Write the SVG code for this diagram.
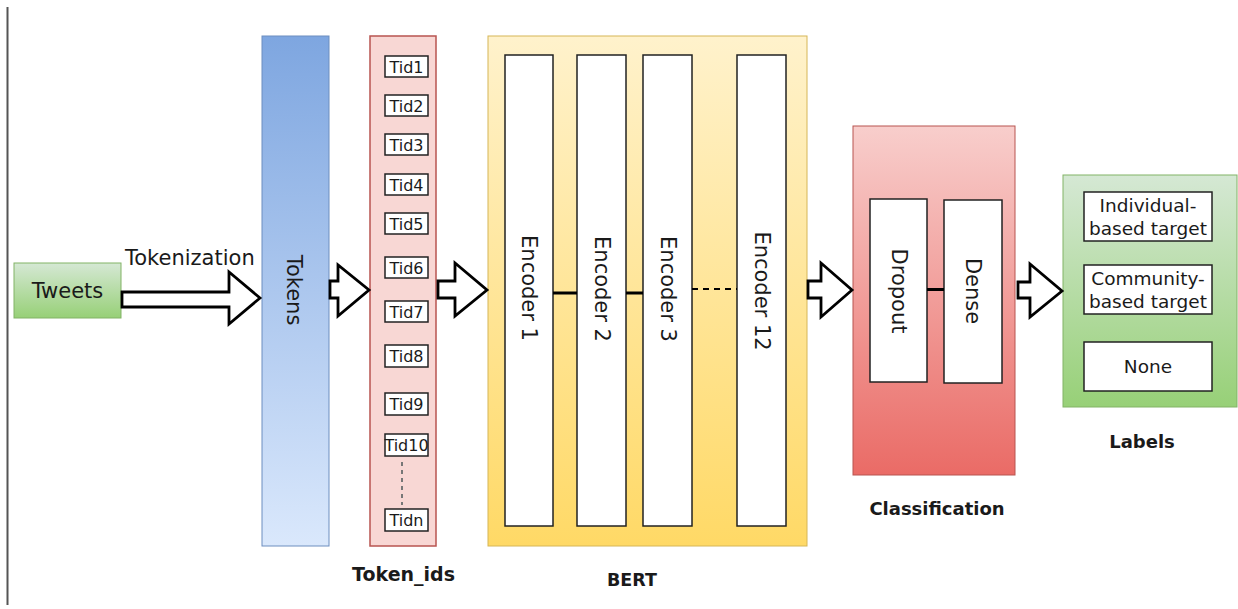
<svg xmlns="http://www.w3.org/2000/svg" width="1238" height="609" viewBox="0 0 1238 609">
<defs>
<linearGradient id="gBlue" x1="0" y1="0" x2="0" y2="1"><stop offset="0" stop-color="#7ea6e0"/><stop offset="1" stop-color="#dae8fc"/></linearGradient>
<linearGradient id="gYellow" x1="0" y1="0" x2="0" y2="1"><stop offset="0" stop-color="#fff2cc"/><stop offset="1" stop-color="#ffd966"/></linearGradient>
<linearGradient id="gRed" x1="0" y1="0" x2="0" y2="1"><stop offset="0" stop-color="#f8cecc"/><stop offset="1" stop-color="#ea6b66"/></linearGradient>
<linearGradient id="gGreen" x1="0" y1="0" x2="0" y2="1"><stop offset="0" stop-color="#d5e8d4"/><stop offset="1" stop-color="#97d077"/></linearGradient>
<style>
text{font-family:"DejaVu Sans","Liberation Sans",sans-serif;fill:#1a1a1a}
.big{font-size:21px}
.tid{font-size:16px;text-anchor:middle}
.lab{font-size:18.5px;text-anchor:middle}
.cap{font-weight:bold;text-anchor:middle}
.rot{font-size:21px;text-anchor:middle;dominant-baseline:central}
.wbox{fill:#ffffff;stroke:#222;stroke-width:1.5}
.arrow{fill:#ffffff;stroke:#000;stroke-width:2.8;stroke-linejoin:miter}
.link{stroke:#000;stroke-width:3;fill:none}
</style>
</defs>
<rect x="0" y="0" width="1238" height="609" fill="#ffffff"/>
<line x1="7.5" y1="7" x2="7.5" y2="605" stroke="#555" stroke-width="2"/>

<g id="tweets">
<rect x="14" y="263" width="107" height="55" fill="url(#gGreen)" stroke="#82b366" stroke-width="1"/>
<text class="big" x="67.5" y="298" text-anchor="middle">Tweets</text>
</g>

<g id="tokenization-label">
<text class="big" x="125" y="265">Tokenization</text>
</g>

<g id="tokens">
<rect x="262" y="36" width="67" height="510" fill="url(#gBlue)" stroke="#6c8ebf" stroke-width="1"/>
<text class="rot" transform="translate(294,290) rotate(90)">Tokens</text>
</g>

<g id="token_ids">
<rect x="370" y="36" width="66" height="510" fill="#f8d7d4" stroke="#b85450" stroke-width="1.5"/>
<g id="tid1"><rect class="wbox" x="385" y="56" width="43" height="21"/><text class="tid" x="406.5" y="72.5">Tid1</text></g>
<g id="tid2"><rect class="wbox" x="385" y="95" width="43" height="21"/><text class="tid" x="406.5" y="111.5">Tid2</text></g>
<g id="tid3"><rect class="wbox" x="385" y="134" width="43" height="21"/><text class="tid" x="406.5" y="150.5">Tid3</text></g>
<g id="tid4"><rect class="wbox" x="385" y="174" width="43" height="21"/><text class="tid" x="406.5" y="190.5">Tid4</text></g>
<g id="tid5"><rect class="wbox" x="385" y="213" width="43" height="21"/><text class="tid" x="406.5" y="229.5">Tid5</text></g>
<g id="tid6"><rect class="wbox" x="385" y="257" width="43" height="21"/><text class="tid" x="406.5" y="273.5">Tid6</text></g>
<g id="tid7"><rect class="wbox" x="385" y="301" width="43" height="21"/><text class="tid" x="406.5" y="317.5">Tid7</text></g>
<g id="tid8"><rect class="wbox" x="385" y="345" width="43" height="22"/><text class="tid" x="406.5" y="362">Tid8</text></g>
<g id="tid9"><rect class="wbox" x="385" y="393" width="43" height="22"/><text class="tid" x="406.5" y="410">Tid9</text></g>
<g id="tid10"><rect class="wbox" x="385" y="434" width="43" height="22"/><text class="tid" x="406.5" y="451" font-size="15px">Tid10</text></g>
<g id="tidn"><rect class="wbox" x="385" y="509" width="43" height="22"/><text class="tid" x="406.5" y="526">Tidn</text></g>
</g>

<g id="bert">
<rect x="488" y="36" width="319" height="510" fill="url(#gYellow)" stroke="#d6b656" stroke-width="1"/>
<g id="encoder1"><rect class="wbox" x="505" y="55" width="48" height="471"/><text class="rot" transform="translate(529,288) rotate(90)">Encoder 1</text></g>
<g id="encoder2"><rect class="wbox" x="577" y="55" width="49" height="471"/><text class="rot" transform="translate(601.5,289) rotate(90)">Encoder 2</text></g>
<g id="encoder3"><rect class="wbox" x="643" y="55" width="49" height="471"/><text class="rot" transform="translate(667.5,289) rotate(90)">Encoder 3</text></g>
<g id="encoder12"><rect class="wbox" x="737" y="55" width="49" height="471"/><text class="rot" transform="translate(761.5,291) rotate(90)">Encoder 12</text></g>
</g>

<g id="classification">
<rect x="853" y="126" width="162" height="349" fill="url(#gRed)" stroke="#b85450" stroke-width="1"/>
<g id="dropout"><rect class="wbox" x="870" y="199" width="57" height="183"/><text class="rot" transform="translate(898.5,291) rotate(90)">Dropout</text></g>
<g id="dense"><rect class="wbox" x="944" y="200" width="58" height="183"/><text class="rot" transform="translate(972.5,291) rotate(90)">Dense</text></g>
</g>

<g id="labels">
<rect x="1063" y="175" width="174" height="232" fill="url(#gGreen)" stroke="#82b366" stroke-width="1"/>
<g id="individual"><rect class="wbox" x="1084" y="192" width="128" height="49"/><text class="lab" x="1148" y="212">Individual-</text><text class="lab" x="1148" y="235">based target</text></g>
<g id="community"><rect class="wbox" x="1084" y="265" width="128" height="49"/><text class="lab" x="1148" y="285">Community-</text><text class="lab" x="1148" y="308">based target</text></g>
<g id="none"><rect class="wbox" x="1084" y="342" width="128" height="49"/><text class="lab" x="1148" y="373">None</text></g>
</g>

<g id="captions">
<text class="cap" x="403.5" y="581" font-size="19px">Token_ids</text>
<text class="cap" x="632" y="586" font-size="17.5px">BERT</text>
<text class="cap" x="937" y="515" font-size="18px">Classification</text>
<text class="cap" x="1142" y="448" font-size="18px">Labels</text>
</g>

<g id="connectors">
<polygon class="arrow" points="122,292 229,292 229,272 260,298 229,324 229,307 122,307"/>
<polygon class="arrow" points="330,281 338,281 338,265 369,290 338,316 338,298 330,298"/>
<polygon class="arrow" points="438,281 455,281 455,263 487,290 455,316 455,298 438,298"/>
<polygon class="arrow" points="808,281 821,281 821,263 852,290 821,317 821,298 808,298"/>
<polygon class="arrow" points="1018,282 1030,282 1030,264 1062,291 1030,317 1030,298 1018,298"/>
<line class="link" x1="553" y1="293" x2="577" y2="293"/>
<line class="link" x1="626" y1="293" x2="643" y2="293"/>
<line x1="692" y1="289" x2="737" y2="289" stroke="#000" stroke-width="2" stroke-dasharray="6,5"/>
<line class="link" x1="927" y1="289.5" x2="944" y2="289.5"/>
<line x1="402" y1="462" x2="402" y2="505" stroke="#777" stroke-width="2" stroke-dasharray="4,4"/>
</g>
</svg>
